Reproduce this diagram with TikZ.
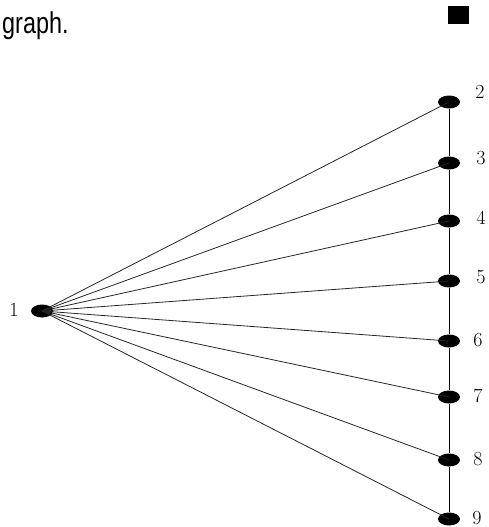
\documentclass[tikz,border=0pt]{standalone}
\usepackage{fontspec}
\usetikzlibrary{shapes.geometric}
\newfontfamily\narrowsans[FakeStretch=0.78]{Liberation Sans}

\begin{document}
\begin{tikzpicture}[
    x=1pt, y=-1pt,
    vertex/.style={
        ellipse,
        fill=black,
        inner sep=0pt,
        minimum width=22pt,
        minimum height=13pt
    },
    num/.style={
        font=\fontsize{20}{20}\selectfont,
        inner sep=0pt
    },
    edge/.style={
        draw=black!85,
        line width=0.8pt
    },
    spine/.style={
        draw=black,
        line width=1pt
    }
]
\useasboundingbox (0,0) rectangle (488,527);

% caption and marker
\node[font=\narrowsans\fontsize{30}{30}\selectfont, anchor=west, inner sep=0pt] (caption) at (2,26) {graph.};
\fill (448,6) rectangle (469,24);

% vertices
\node[vertex] (v1) at (42,311) {};
\node[vertex] (v2) at (449,102) {};
\node[vertex] (v3) at (449,163) {};
\node[vertex] (v4) at (449,221) {};
\node[vertex] (v5) at (449,281) {};
\node[vertex] (v6) at (449,341) {};
\node[vertex] (v7) at (449,397) {};
\node[vertex] (v8) at (449,460) {};
\node[vertex] (v9) at (449,519) {};

% vertex numbers
\node[num] (t1) at (14,310) {1};
\node[num] (t2) at (480,92) {2};
\node[num] (t3) at (481,158) {3};
\node[num] (t4) at (481,218) {4};
\node[num] (t5) at (481,277) {5};
\node[num] (t6) at (478,340) {6};
\node[num] (t7) at (478,396) {7};
\node[num] (t8) at (478,459) {8};
\node[num] (t9) at (477,518) {9};

% fan from 1
\draw[edge] (v1.center) -- (v2.center);
\draw[edge] (v1.center) -- (v3.center);
\draw[edge] (v1.center) -- (v4.center);
\draw[edge] (v1.center) -- (v5.center);
\draw[edge] (v1.center) -- (v6.center);
\draw[edge] (v1.center) -- (v7.center);
\draw[edge] (v1.center) -- (v8.center);
\draw[edge] (v1.center) -- (v9.center);

% path 2-9
\draw[spine] (v2) -- (v3) -- (v4) -- (v5) -- (v6) -- (v7) -- (v8) -- (v9);

\end{tikzpicture}
\end{document}
